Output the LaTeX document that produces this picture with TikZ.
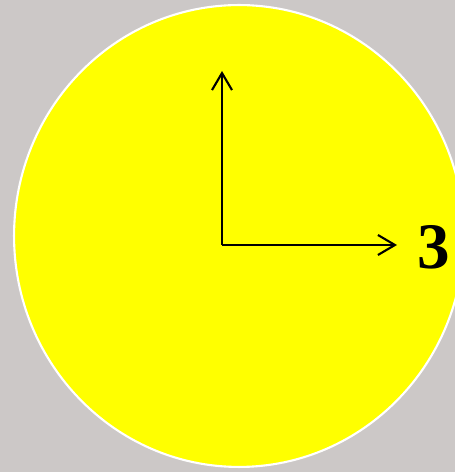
\documentclass[tikz,border=0pt]{standalone}
\usepackage{fontspec}
\setmainfont{Liberation Serif}
\usepackage{tikz}
\usetikzlibrary{arrows.meta}
\definecolor{bggray}{RGB}{204,200,199}
\definecolor{dialyellow}{RGB}{255,255,0}
\tikzset{
  dial/.style={fill=dialyellow,draw=white,line width=1.2pt},  % yellow disc
  hand/.style={-{Straight Barb[length=3.4mm,width=4mm]},black,line width=1.2pt},
  numlabel/.style={font=\fontsize{37}{40}\selectfont\bfseries,inner sep=0pt},
}
\begin{document}
\begin{tikzpicture}[x=0.02cm,y=0.02cm]
  \fill[bggray] (0,0) rectangle (455,472);
  \useasboundingbox (0,0) rectangle (455,472);
  \draw[dial] (239,236) ellipse [x radius=4.5cm,y radius=4.62cm];
  \coordinate (o) at (222,227);
  \coordinate (ytip) at (222,401);
  \coordinate (xtip) at (397,227);
  \node[numlabel] (three) at (434,225) {3};
  \draw[hand] (o) -- (ytip);
  \draw[hand] (o) -- (xtip);
\end{tikzpicture}
\end{document}
